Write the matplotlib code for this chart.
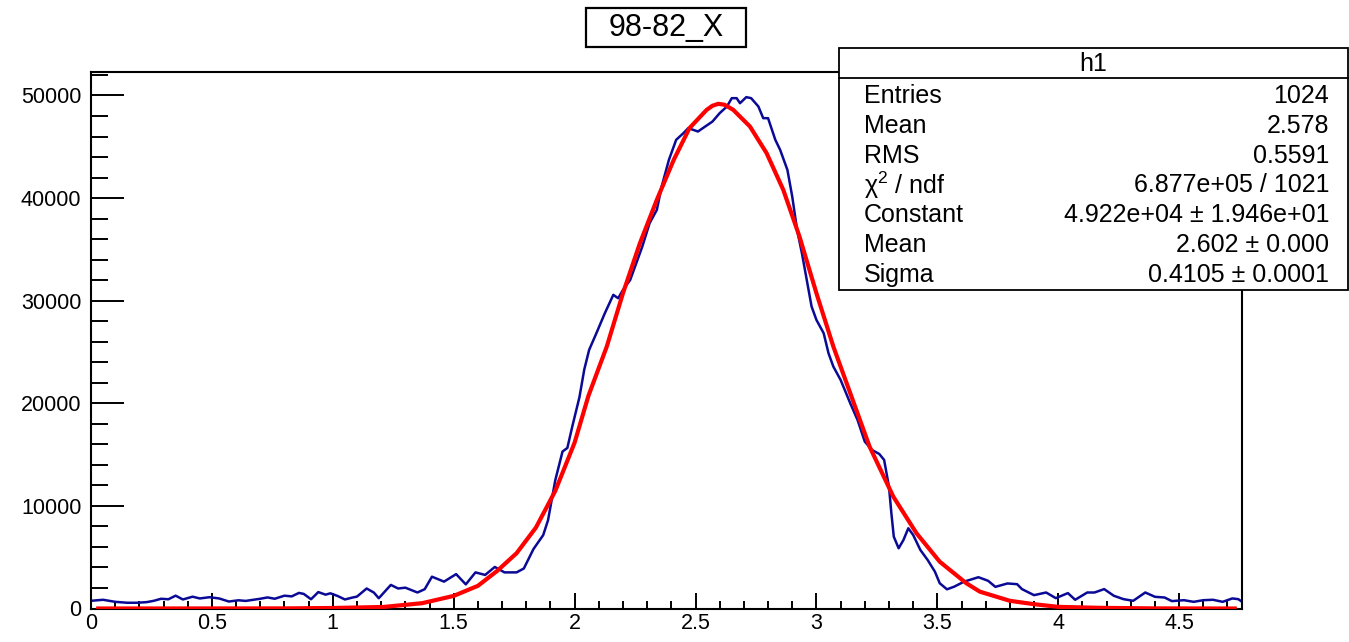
import matplotlib
matplotlib.use("Agg")
import matplotlib.pyplot as plt
from matplotlib.patches import Rectangle
from matplotlib.lines import Line2D
from matplotlib.ticker import MultipleLocator, FuncFormatter

plt.rcParams['font.family'] = ['Liberation Sans', 'DejaVu Sans']
plt.rcParams['mathtext.fontset'] = 'custom'
plt.rcParams['mathtext.rm'] = 'Liberation Sans'
plt.rcParams['mathtext.it'] = 'Liberation Sans:italic'

# histogram h1
histX = [0.00, 0.05, 0.10, 0.15, 0.19, 0.23, 0.26, 0.29, 0.32, 0.35, 0.38, 0.42,
         0.45, 0.49, 0.53, 0.57, 0.61, 0.64, 0.70, 0.73, 0.76, 0.80, 0.83, 0.86,
         0.88, 0.91, 0.94, 0.97, 0.99, 1.02, 1.05, 1.08, 1.10, 1.14, 1.17, 1.19,
         1.24, 1.27, 1.30, 1.35, 1.38, 1.41, 1.46, 1.51, 1.55, 1.59, 1.63, 1.67,
         1.71, 1.76, 1.79, 1.83, 1.87, 1.89, 1.92, 1.95, 1.97, 1.99, 2.02, 2.04,
         2.06, 2.09, 2.125, 2.16, 2.18, 2.20, 2.23, 2.25, 2.28, 2.31, 2.34, 2.36,
         2.39, 2.42, 2.45, 2.47, 2.51, 2.54, 2.57, 2.60, 2.63, 2.65, 2.67, 2.684,
         2.71, 2.73, 2.76, 2.78, 2.80, 2.83, 2.85, 2.88, 2.90, 2.92, 2.94, 2.96,
         2.98, 3.00, 3.03, 3.05, 3.07, 3.10, 3.14, 3.17, 3.20, 3.23, 3.26, 3.28,
         3.30, 3.31, 3.32, 3.34, 3.36, 3.38, 3.40, 3.43, 3.46, 3.49, 3.51, 3.54,
         3.57, 3.61, 3.67, 3.71, 3.74, 3.79, 3.83, 3.85, 3.90, 3.95, 3.99, 4.04,
         4.07, 4.12, 4.15, 4.19, 4.23, 4.27, 4.31, 4.36, 4.40, 4.44, 4.47, 4.52,
         4.56, 4.60, 4.64, 4.68, 4.72, 4.745, 4.76]
histY = [750, 850, 650, 560, 560, 620, 750, 950, 900, 1250, 880, 1150,
         980, 1100, 980, 680, 800, 740, 950, 1080, 950, 1250, 1180, 1520,
         1420, 900, 1600, 1350, 1480, 1220, 880, 1060, 1160, 1950, 1550, 1000,
         2300, 1950, 2030, 1560, 1880, 3100, 2620, 3350, 2350, 3520, 3270, 4050,
         3520, 3520, 3900, 5800, 7150, 8600, 12500, 15300, 15650, 17700, 20600, 23300,
         25200, 26830, 28780, 30570, 30240, 31050, 32030, 33330, 35280, 37550, 38850, 41130,
         43730, 45680, 46330, 46820, 46490, 46980, 47460, 48280, 48930, 49740, 49740, 49250,
         49840, 49740, 48930, 47790, 47790, 45680, 44700, 42750, 40150, 36900, 34630, 32030,
         29430, 28130, 26830, 24880, 23580, 22280, 20000, 18380, 16270, 15450, 15060, 14480,
         11880, 9280, 7000, 5870, 6680, 7820, 7170, 5700, 4730, 3590, 2460, 1870,
         2130, 2610, 3050, 2700, 2110, 2440, 2370, 1890, 1300, 1560, 1010, 1500,
         850, 1560, 1560, 1890, 1240, 910, 750, 1560, 1140, 1070, 720, 810,
         650, 810, 850, 650, 980, 910, 650]

# gaussian fit curve
fitX = [0.03, 0.8, 1.0, 1.21, 1.37, 1.5, 1.6, 1.68, 1.76, 1.84, 1.92, 2.0,
        2.057, 2.133, 2.2, 2.27, 2.34, 2.41, 2.475, 2.546, 2.57, 2.594, 2.62,
        2.656, 2.725, 2.794, 2.863, 2.93, 3.0, 3.07, 3.14, 3.22, 3.318, 3.414,
        3.51, 3.62, 3.676, 3.8, 3.9, 4.0, 4.17, 4.4, 4.73]
fitY = [0, 10, 50, 150, 520, 1230, 2210, 3670, 5390, 7890, 11460, 16170,
        20720, 25530, 30730, 35600, 39830, 43730, 46820, 48600, 49000, 49190, 49100,
        48600, 46980, 44380, 40800, 36250, 30730, 25530, 20980, 15770, 10900, 7330,
        4560, 2460, 1640, 750, 420, 160, 65, 10, 0]

titleText = "98-82_X"
statsName = "h1"
statsLabels = ["Entries", "Mean", "RMS", "\u03c7$^{2}$ / ndf", "Constant", "Mean", "Sigma"]
statsValues = ["1024", "2.578", "0.5591", "6.877e+05 / 1021",
               "4.922e+04 \u00b1 1.946e+01", "2.602 \u00b1 0.000", "0.4105 \u00b1 0.0001"]

W, H = 1349, 642
fig = plt.figure(figsize=(W / 100, H / 100), dpi=100)

def fx(p):
    return p / W

def fy(p):
    return 1 - p / H

ax = fig.add_axes([fx(91), fy(608.5), (1242 - 91) / W, (608.5 - 72) / H])
ax.plot(histX, histY, color='#0a0a96', lw=1.8, zorder=2)
ax.plot(fitX, fitY, color='#ff0000', lw=3.0, zorder=3)

ax.set_xlim(0, 4.76)
ax.set_ylim(0, 52290)
ax.xaxis.set_major_locator(MultipleLocator(0.5))
ax.xaxis.set_minor_locator(MultipleLocator(0.1))
ax.yaxis.set_major_locator(MultipleLocator(10000))
ax.yaxis.set_minor_locator(MultipleLocator(2000))
ax.xaxis.set_major_formatter(FuncFormatter(lambda v, p: "%g" % v))
ax.tick_params(axis='both', which='both', direction='in', width=1.4, colors='black',
               labelsize=15.5, top=False, right=False)
ax.tick_params(axis='y', which='major', length=24, pad=7)
ax.tick_params(axis='y', which='minor', length=12)
ax.tick_params(axis='x', which='major', length=11.5, pad=3)
ax.tick_params(axis='x', which='minor', length=5.5)
for s in ax.spines.values():
    s.set_linewidth(1.5)

# title box
fig.patches.append(Rectangle((fx(586), fy(47)), (746 - 586) / W, (47 - 8) / H,
                             transform=fig.transFigure, facecolor='white',
                             edgecolor='black', lw=1.6, zorder=5))
fig.text(fx(666), fy(28), titleText, fontsize=22, ha='center', va='center', zorder=6)

# stats box
fig.patches.append(Rectangle((fx(839), fy(290)), (1348 - 839) / W, (290 - 48) / H,
                             transform=fig.transFigure, facecolor='white',
                             edgecolor='black', lw=1.3, zorder=5))
fig.lines.append(Line2D([fx(839), fx(1348)], [fy(78), fy(78)], transform=fig.transFigure,
                        color='black', lw=1.3, zorder=6))
fig.text(fx(1093), fy(64), statsName, fontsize=18, ha='center', va='center', zorder=6)
for i in range(len(statsLabels)):
    rowY = 96 + i * 29.8
    fig.text(fx(864), fy(rowY), statsLabels[i], fontsize=18, ha='left', va='center', zorder=6)
    fig.text(fx(1329), fy(rowY), statsValues[i], fontsize=18, ha='right', va='center', zorder=6)

fig.savefig("out.png", dpi=100)
